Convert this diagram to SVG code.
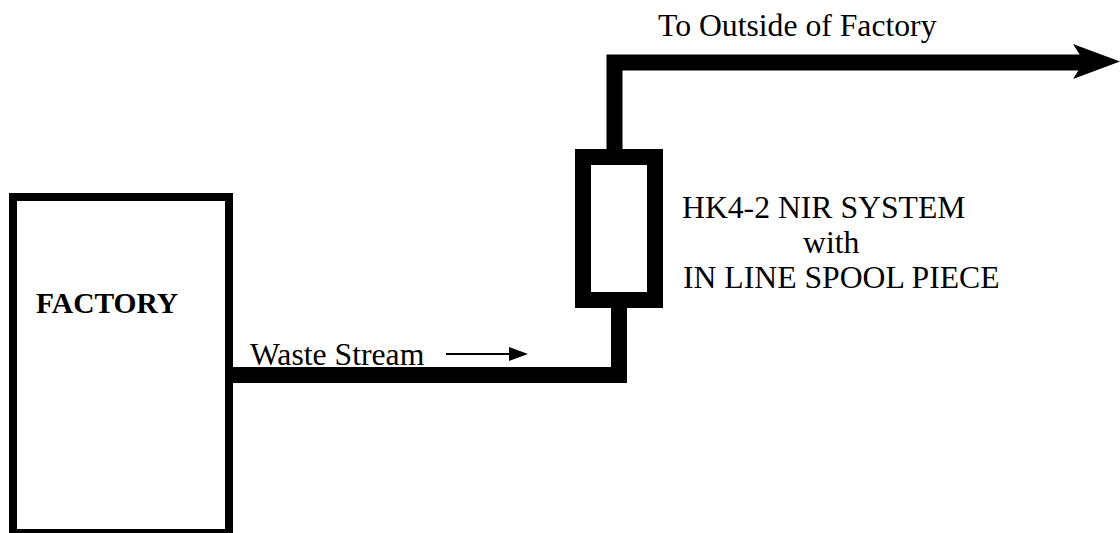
<svg xmlns="http://www.w3.org/2000/svg" width="1120" height="533" viewBox="0 0 1120 533">
<style>
.t{font-family:"Liberation Serif","Times New Roman",serif;font-size:31.7px;fill:#000}
.b{font-weight:bold;font-size:29.5px}
.box{fill:#fff;stroke:#000}
.pipe{fill:none;stroke:#000;stroke-width:16;stroke-linejoin:miter;stroke-linecap:butt}
</style>
<rect width="1120" height="533" fill="#fff"/>
<g id="connectors">
<polyline class="pipe" points="229,375 619,375 619,300"/>
<polyline class="pipe" points="614.5,157 614.5,62.5 1084,62.5"/>
<polygon points="1073,44 1120,61.5 1073,79 1084,61.5" fill="#000"/>
<line x1="446" y1="354" x2="512" y2="354" stroke="#000" stroke-width="2"/>
<polygon points="509,347 528,354 509,361" fill="#000"/>
<text class="t" x="250" y="365">Waste Stream</text>
<text class="t" x="658" y="36">To Outside of Factory</text>
</g>
<g id="factory">
<rect class="box" x="13" y="197" width="216" height="336" stroke-width="8"/>
<text class="t b" x="36" y="313">FACTORY</text>
</g>
<g id="spool">
<rect class="box" x="583" y="157" width="72" height="143" stroke-width="16"/>
<text class="t" x="682" y="218">HK4-2 NIR SYSTEM</text>
<text class="t" x="803" y="253">with</text>
<text class="t" x="683" y="288">IN LINE SPOOL PIECE</text>
</g>
</svg>
